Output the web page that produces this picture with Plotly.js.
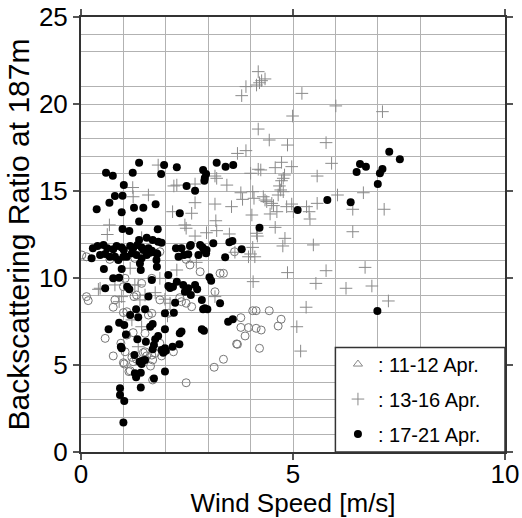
<!DOCTYPE html>
<html>
<head>
<meta charset="utf-8">
<script src="https://cdn.plot.ly/plotly-3.0.1.min.js"></script>
<style>html,body{margin:0;padding:0;background:#fff;}#chart{width:522px;height:518px;}</style>
</head>
<body>
<div id="chart"></div>
<script>
// 11-12 Apr. (open circles)
const aprX_1112 = [3.77,4.05,4.13,4.44,4.72,4.65,3.77,3.95,4.13,4.25,3.87,3.69,4.21,0.17,0.80,0.76,1.00,1.08,1.59,1.67,2.06,2.48,2.61,1.08,1.23,1.51,0.57,0.94,1.86,1.04,1.51,1.47,1.55,1.67,1.75,1.90,2.18,0.76,1.20,1.23,1.31,1.00,1.16,1.64,1.69,3.36,3.14,2.48,1.69,3.67,1.86,1.27,0.02,0.13,0.68,2.57,2.81,2.48,3.36,3.28,3.62,1.04,1.00,1.67,1.43,0.13,1.25,1.31,1.86,2.33,2.37,3.16,1.02,1.13];
const aprY_1112 = [7.72,8.12,8.12,8.12,7.63,7.24,7.16,7.15,7.11,7.01,6.67,6.19,5.96,8.70,8.74,8.32,8.01,8.06,7.87,7.97,7.97,8.55,8.35,6.72,6.86,6.82,6.53,6.25,6.25,5.76,5.76,5.71,5.52,5.57,5.67,5.52,5.76,5.52,5.44,5.19,5.33,5.13,4.67,4.94,5.29,5.33,4.87,3.98,4.14,6.21,11.51,11.13,11.32,11.22,11.07,10.75,10.36,11.07,10.27,10.27,11.51,9.98,9.50,9.98,9.69,8.93,8.93,9.02,8.74,8.87,8.64,9.21,5.06,4.62];

// 13-16 Apr. (plus)
const aprX_1316 = [4.18,3.89,3.79,4.14,4.21,4.26,4.34,5.21,6.01,7.11,4.99,4.18,4.44,4.87,5.78,3.69,3.89,4.73,4.58,4.97,5.91,4.18,4.24,4.00,4.80,4.77,4.73,5.57,4.68,4.71,4.77,3.77,3.81,4.05,4.08,4.30,4.34,4.38,4.50,4.65,4.62,4.54,4.85,4.97,5.01,5.32,5.38,5.57,6.05,6.66,6.41,7.15,3.55,4.03,4.46,5.40,4.58,4.14,4.16,4.81,4.76,5.48,4.05,3.63,3.95,4.10,4.00,6.41,4.87,5.78,6.70,4.06,5.54,6.25,6.86,7.25,5.31,5.09,5.18,1.82,2.26,2.19,2.69,3.20,3.16,3.44,1.22,1.59,2.69,3.16,2.16,2.61,3.18,0.67,2.45,2.48,2.96,3.20,2.69,3.50,0.62,1.43,1.16,2.26,2.72,1.86,1.27,1.35,0.45,0.80,1.75,1.51,1.98,3.16,2.10,0.96,0.90,1.39,1.20,1.43,2.04,1.35,1.23,0.41];
const aprY_1316 = [21.86,21.00,20.48,21.09,21.22,21.34,21.44,20.61,19.89,19.56,19.31,18.56,17.93,17.64,17.78,17.16,17.32,16.65,16.34,16.40,16.59,16.25,16.21,16.02,15.92,15.73,15.59,15.86,15.29,15.06,14.96,14.90,14.52,14.96,14.58,14.67,14.48,14.39,14.29,14.77,13.81,14.16,14.10,14.25,13.81,14.10,13.81,14.29,14.77,14.90,13.95,13.95,14.10,13.62,13.68,13.39,12.91,12.57,12.41,12.28,11.84,11.90,11.76,11.48,11.22,11.22,11.38,12.66,10.31,10.42,10.61,9.79,9.69,9.41,9.54,8.68,8.32,7.20,5.80,16.49,15.34,15.29,15.40,15.73,15.86,15.34,15.20,14.77,14.33,14.25,13.81,13.72,13.29,13.05,13.05,12.86,12.60,12.72,12.41,12.53,12.50,12.32,10.56,10.46,10.90,9.98,9.60,9.60,9.41,9.60,9.16,9.02,8.78,8.93,8.55,8.93,8.64,8.74,7.59,7.20,7.82,6.05,14.67,9.35];

// 17-21 Apr. (filled circles)
const aprX_1721 = [1.37,1.96,2.26,3.20,3.41,3.59,0.59,0.75,1.22,1.89,2.88,2.95,2.92,2.49,2.69,2.91,1.01,0.80,0.98,0.67,0.37,1.25,1.47,1.76,0.96,2.33,1.37,0.98,1.14,1.81,1.37,1.55,1.69,1.82,1.90,3.12,3.50,3.57,2.59,2.81,2.90,0.28,0.39,0.53,0.62,0.76,0.84,0.96,1.01,1.16,1.23,1.33,1.43,1.47,1.59,1.67,1.78,0.25,0.45,0.57,0.68,0.80,0.88,1.00,1.08,1.20,1.31,1.43,1.55,1.63,1.78,1.80,2.24,2.37,2.30,2.43,2.53,2.57,2.77,2.87,2.96,2.95,3.40,0.54,0.96,1.39,1.41,1.79,0.76,0.90,1.67,2.06,2.26,2.41,2.53,2.69,2.74,3.03,3.07,0.57,1.09,1.14,1.59,2.06,2.10,2.17,2.45,2.59,2.22,3.28,2.92,2.85,1.30,1.51,1.16,1.35,1.98,2.19,2.88,2.98,0.90,1.02,1.63,1.69,0.65,1.98,2.33,2.37,3.47,3.58,2.85,2.90,1.06,1.82,1.75,1.33,1.53,1.72,0.94,0.96,1.98,2.00,2.16,2.32,1.69,1.90,1.94,1.26,1.38,1.45,1.51,1.43,1.27,1.41,1.30,1.98,1.72,1.41,0.92,0.92,1.02,1.00,7.27,7.52,6.58,6.72,6.50,7.11,7.05,7.00,5.81,6.36,5.11,4.21,3.79,6.99];
const aprY_1721 = [16.63,16.49,16.36,16.63,16.40,16.49,16.05,15.88,16.05,15.98,16.21,15.98,15.75,15.29,15.02,15.59,15.34,14.71,14.73,14.33,13.95,14.04,14.04,14.24,13.78,13.72,13.24,12.82,12.70,12.80,12.18,12.32,12.18,12.09,12.03,11.99,12.05,12.13,11.90,11.90,11.61,11.71,11.84,11.90,11.71,11.65,11.84,11.76,11.61,11.84,11.71,11.90,11.76,11.61,11.71,11.57,11.42,11.13,11.32,11.38,11.22,11.22,11.03,11.22,11.22,11.42,11.32,11.13,11.32,11.45,11.03,11.38,11.71,11.71,11.22,11.32,11.36,11.84,11.32,11.76,11.61,11.42,11.19,10.52,10.52,10.84,10.46,10.65,9.98,10.02,9.89,10.17,9.79,9.60,9.41,9.60,9.35,10.04,9.84,9.41,9.50,9.35,8.93,9.54,9.43,9.50,9.21,9.02,8.58,8.55,8.26,8.74,8.20,8.20,7.87,7.74,7.97,8.01,8.20,8.20,7.43,7.30,7.20,7.36,7.05,7.05,6.82,6.92,7.49,7.63,7.05,6.97,6.76,6.67,6.48,6.48,6.34,6.15,6.05,5.96,5.96,5.82,6.05,6.19,5.90,5.86,5.71,5.57,5.19,5.25,5.29,5.06,4.52,4.56,4.29,4.62,4.23,3.70,3.66,3.28,2.93,1.69,17.26,16.82,16.55,16.40,16.09,16.26,16.02,15.40,14.48,14.35,13.91,12.89,11.65,8.10];

const legendLabels = [': 11-12 Apr.', ': 13-16 Apr.', ': 17-21 Apr.'];
const xTicks = [0, 5, 10];
const yTicks = [0, 5, 10, 15, 20, 25];
const xGrid = [1, 2, 3, 4, 6, 7, 8];
const yGrid = [1, 2, 3, 4, 8, 9, 11, 12, 13, 16, 17, 18, 19, 21, 23, 24];

const FONT = 'Liberation Sans, Arial, Helvetica, sans-serif';
const GRID = '#b2b2b2';

const traces = [
  { x: [null], y: [null], type: 'scatter', mode: 'markers', name: legendLabels[0], legendgroup: 'a',
    marker: { symbol: 'triangle-up-open', size: 8, color: '#888', line: { width: 1, color: '#888' } }, hoverinfo: 'skip' },
  { x: aprX_1112, y: aprY_1112, type: 'scatter', mode: 'markers', showlegend: false,
    marker: { symbol: 'circle-open', size: 8, color: '#777', line: { width: 1, color: '#777' } } },
  { x: aprX_1316, y: aprY_1316, type: 'scatter', mode: 'markers', name: legendLabels[1], legendgroup: 'b',
    marker: { symbol: 'cross-thin-open', size: 9, color: '#8a8a8a', line: { width: 1, color: '#8a8a8a' } } },
  { x: aprX_1721, y: aprY_1721, type: 'scatter', mode: 'markers', name: legendLabels[2], legendgroup: 'c',
    marker: { symbol: 'circle', size: 8, color: '#000' } }
];

const layout = {
  width: 522, height: 518,
  margin: { l: 81, r: 17, t: 17, b: 66 },
  paper_bgcolor: '#fff', plot_bgcolor: '#fff',
  font: { family: FONT, color: '#000', size: 26 },
  showlegend: true,
  legend: {
    x: 0.606, y: 0.247, xanchor: 'left', yanchor: 'top',
    bgcolor: 'rgba(0,0,0,0)', borderwidth: 0,
    font: { family: FONT, size: 20, color: '#000' },
    traceorder: 'grouped', tracegroupgap: 6, itemwidth: 30
  },
  xaxis: {
    range: [0, 10], tickmode: 'array', tickvals: xTicks, ticks: 'outside', ticklen: 6, tickwidth: 1.5, tickcolor: '#555',
    showline: true, linecolor: '#333', linewidth: 2, mirror: 'ticks', zeroline: false,
    showgrid: true, gridcolor: GRID, gridwidth: 1,
    minor: { tickmode: 'array', tickvals: xGrid, showgrid: true, gridcolor: GRID, gridwidth: 1, ticks: '' },
    tickfont: { size: 26, family: FONT }, ticklabelstandoff: -8,
    title: { text: 'Wind Speed [m/s]', font: { size: 26, family: FONT }, standoff: 12 }
  },
  yaxis: {
    range: [0, 25], tickmode: 'array', tickvals: yTicks, ticks: 'outside', ticklen: 6, tickwidth: 1.5, tickcolor: '#555',
    showline: true, linecolor: '#333', linewidth: 2, mirror: 'ticks', zeroline: false,
    showgrid: true, gridcolor: GRID, gridwidth: 1,
    minor: { tickmode: 'array', tickvals: yGrid, showgrid: true, gridcolor: GRID, gridwidth: 1, ticks: '' },
    tickfont: { size: 26, family: FONT },
    title: { text: 'Backscattering Ratio at 187m', font: { size: 30, family: FONT }, standoff: 0 }
  },
  shapes: [
    { type: 'rect', xref: 'x', yref: 'y', x0: 6, x1: 10, y0: 0, y1: 6, layer: 'above',
      fillcolor: 'rgba(0,0,0,0)', line: { color: '#333', width: 1.5 } },
    { type: 'rect', xref: 'x', yref: 'y', x0: 6, x1: 10, y0: 0, y1: 6, layer: 'between',
      fillcolor: '#fff', line: { width: 0 } }
  ]
};

Plotly.newPlot('chart', traces, layout, { staticPlot: true, displayModeBar: false });
</script>
</body>
</html>
